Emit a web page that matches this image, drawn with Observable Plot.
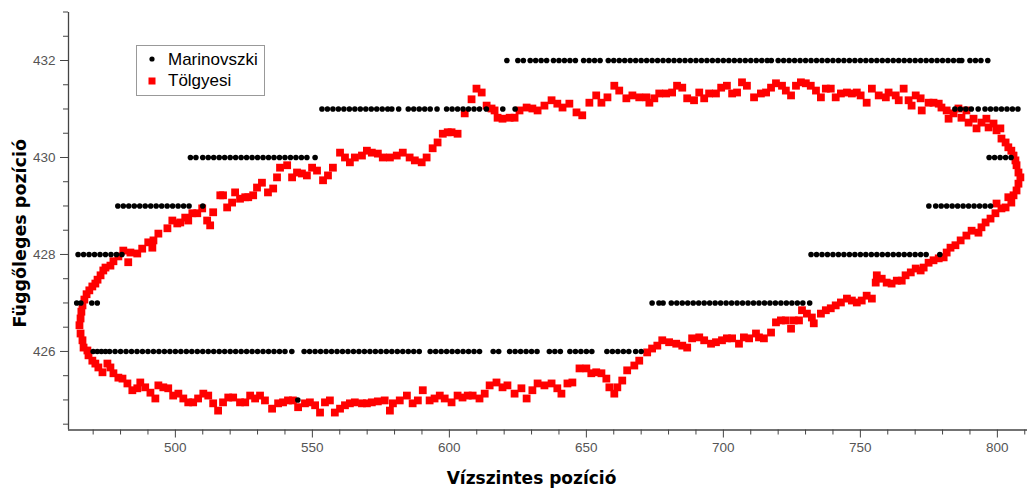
<!DOCTYPE html>
<html><head><meta charset="utf-8">
<script src="https://cdn.jsdelivr.net/npm/d3@7"></script>
<script src="https://cdn.jsdelivr.net/npm/@observablehq/plot@0.6"></script>
<style>
body{margin:0;background:#fff;}
#wrap{position:relative;width:1027px;height:493px;overflow:hidden;}
#legend{position:absolute;left:136px;top:45px;}
</style></head><body><div id="wrap"></div>
<script>
// Axis ticks
const xTicksMajor = [500, 550, 600, 650, 700, 750, 800];
const xTicksMinor = [470, 480, 490, 510, 520, 530, 540, 560, 570, 580, 590, 610, 620, 630, 640, 660, 670, 680, 690, 710, 720, 730, 740, 760, 770, 780, 790, 810];
const yTicksMajor = [426, 428, 430, 432];
const yTicksMinor = [424.5, 425, 425.5, 426.5, 427, 427.5, 428.5, 429, 429.5, 430.5, 431, 431.5, 432.5, 433];
const xDomain = [461, 811];
const yDomain = [424.38, 432.99];
const seriesNames = ["Marinovszki", "Tölgyesi"];
const xLabel = "Vízszintes pozíció";
const yLabel = "Függőleges pozíció";

// Marinovszki: integer rows (y) with x positions
const marRowY = [432, 431, 431, 430, 430, 429, 429, 428, 428, 427, 427, 426, 425];
const marRowX = [
  [621, 625, 627, 629.5, 631.5, 633.5, 635.5, 638, 640, 642, 644, 646, 649, 651, 653, 655, 658, 660, 662, 664, 666, 668, 670, 672, 674, 676, 678, 680, 682, 684, 686, 688, 690, 692, 694, 696, 698, 700, 702, 704, 706, 708, 710, 712, 714, 716, 717.5, 720, 722, 724, 726, 728, 730, 732, 734, 736, 738, 740, 742, 744, 746, 748, 750, 752, 754, 756, 758, 760, 762, 764, 766, 768, 770, 772, 774, 776, 778, 780, 782, 784, 786, 787, 790, 792, 794, 796.5],
  [553.5, 555.5, 557.5, 559.5, 561.5, 563.5, 565.5, 567.5, 569.5, 571.5, 573.5, 575.5, 577.5, 579, 581.5, 585, 587, 589, 591, 593, 595.5, 599, 601, 603, 605, 607, 609, 611, 613.5, 619.5, 624],
  [784.5, 786.5, 788.5, 790.5, 793, 795.5, 797.5, 799.5, 801.5, 803.5, 805.5, 807.5],
  [505.5, 507.5, 510, 512, 514, 516, 518, 520, 522, 524, 526, 528, 530, 532, 534, 536, 538, 540, 542, 544, 546, 548, 551],
  [797, 799, 801, 803, 805],
  [479, 481, 483, 485, 487, 489, 491, 493, 495, 497, 499, 501, 503, 505, 510],
  [775, 777.5, 779.5, 781.5, 783.5, 785.5, 787.5, 789.5, 791.5, 793.5, 795.5, 797.5],
  [464.5, 466.5, 468.5, 470.5, 472.5, 474.5, 476.5, 478.5, 480.5],
  [732, 734, 736, 738, 740, 742, 744, 746, 748, 750, 752, 754, 756, 758, 760, 762, 764, 766, 768, 770, 772, 774, 779],
  [464, 465.5, 469.5, 471.5],
  [674, 676.5, 678, 681, 683, 685, 687, 689, 691, 693, 695, 697, 699, 701, 703, 705, 707, 709, 711, 713, 715, 717, 719, 721, 723, 725, 727, 729, 731.5],
  [470, 471.5, 473, 474.5, 476, 478, 480, 482, 484, 486, 488, 490, 492, 494, 496, 498, 500, 502, 504, 506, 508, 510, 512, 514, 516, 518, 520, 522, 524, 526, 528, 530, 532, 534, 536, 538, 540, 542.5, 547, 549, 551, 553, 555, 557, 559, 561, 563, 565, 567, 569, 571, 573, 575, 577, 579, 581, 583, 585, 587, 589, 593, 595, 597, 599, 601, 603, 605, 607, 609, 611, 616, 618, 622, 624, 626, 628, 630, 632, 636.5, 638.5, 640.5, 644, 646, 648, 650, 652, 657.5, 659.5, 661.5, 663.5, 665.5, 668, 670],
  [544.7]
];

// Tölgyesi: loop of points
const tolX = [
466.1,465.4,465.0,465.4,465.7,466.1,466.8,467.6,468.6,469.7,
470.8,471.6,472.7,473.7,474.5,476.3,477.4,479.2,481.0,482.8,
483.6,486.1,487.9,490.1,491.6,492.0,493.8,497.1,498.9,500.7,
501.8,503.6,504.7,506.2,508.0,509.8,511.6,512.7,513.8,516.4,
517.4,518.9,520.7,521.8,523.6,525.5,526.6,528.4,529.8,531.6,
533.8,535.7,537.1,538.2,540.8,542.6,544.4,546.2,548.0,549.9,
551.7,553.9,555.7,557.5,560.1,561.9,563.7,565.5,568.1,569.9,
571.7,573.9,575.7,578.3,580.8,583.0,585.5,587.4,589.9,591.7,
593.9,595.7,597.6,599.4,600.8,603.0,605.6,608.1,609.9,611.8,
613.6,615.4,616.5,617.6,619.4,622.0,623.8,625.6,628.2,630.3,
632.2,634.7,637.3,639.4,641.3,643.8,646.4,648.5,651.1,653.6,
655.5,657.7,660.2,662.0,664.6,666.8,669.3,671.9,673.0,674.8,
676.6,679.1,681.3,683.1,685.0,686.8,689.3,691.2,693.0,694.8,
697.3,699.2,701.3,703.2,705.0,706.8,708.6,711.2,713.7,715.6,
717.4,719.2,721.4,722.8,724.7,726.5,728.3,730.1,731.9,733.8,
735.6,737.4,739.2,741.0,742.9,745.1,746.9,748.7,750.1,752.3,
754.2,756.7,759.3,760.3,762.9,764.0,765.8,767.6,768.7,770.2,
772.0,772.4,774.9,776.7,778.6,779.6,781.5,782.2,784.0,785.8,
786.9,788.7,789.5,791.3,792.4,794.2,796.0,796.8,798.6,799.7,
801.1,801.5,803.0,804.0,805.1,805.9,806.6,807.0,807.7,808.4,
807.7,807.0,805.9,805.1,804.0,803.0,801.5,799.7,799.3,797.5,
795.7,794.2,793.1,790.6,788.7,
786.6,784.7,782.9,781.5,780.4,778.6,776.7,774.9,773.1,772.0,
770.2,768.4,766.5,765.1,763.3,761.4,759.6,757.8,756.0,755.6,
754.2,752.3,750.5,748.7,746.9,745.1,742.9,741.0,739.2,737.4,
735.6,733.0,732.3,730.5,728.7,727.6,725.7,724.7,722.8,721.0,
719.2,717.4,714.8,713.0,711.9,709.4,707.5,705.7,703.2,701.3,
699.5,697.3,695.5,693.0,691.2,688.6,686.8,685.0,682.8,680.2,
677.7,675.9,674.0,672.2,669.3,667.5,664.9,663.1,661.3,660.2,
658.4,657.3,655.5,653.6,651.8,650.0,647.5,644.9,643.1,640.9,
639.4,637.3,634.7,632.2,630.3,628.2,626.3,623.8,621.2,619.4,
617.2,614.7,612.9,611.0,608.5,606.7,604.8,603.0,600.8,598.3,
596.5,594.6,592.8,590.3,588.5,586.6,584.5,581.9,579.4,578.3,
576.4,573.9,571.7,569.9,568.1,565.5,563.7,561.9,560.1,558.2,
556.4,554.6,552.8,551.0,549.1,547.3,544.8,542.9,541.1,539.3,
537.5,535.3,532.7,530.9,529.1,527.3,525.5,523.6,521.1,519.3,
517.4,515.6,513.8,512.0,510.2,508.3,506.5,504.7,502.9,501.1,
499.2,497.4,495.6,493.8,492.7,490.9,489.0,487.2,486.1,484.3,
482.5,480.7,479.2,477.4,476.3,475.2,473.4,471.9,470.8,469.7,
468.3,467.9,466.5
];
const tolY = [
426.23,426.37,426.54,426.68,426.82,426.95,427.07,427.18,427.26,427.34,
427.40,427.48,427.57,427.67,427.73,427.77,427.86,427.96,428.08,427.84,
428.04,428.02,428.12,428.25,428.14,428.29,428.43,428.54,428.70,428.64,
428.66,428.76,428.70,428.85,428.85,428.95,428.70,428.60,428.87,429.22,
429.22,428.97,429.07,429.28,429.15,429.18,429.18,429.22,429.38,429.48,
429.28,429.36,429.59,429.79,429.84,429.59,429.69,429.67,429.63,429.79,
429.73,429.53,429.63,429.79,430.10,430.00,429.90,430.00,430.04,430.14,
430.10,430.08,430.00,430.00,430.04,430.10,430.00,429.94,429.90,430.00,
430.19,430.31,430.49,430.52,430.52,430.49,430.91,431.20,431.42,431.34,
431.07,431.01,430.97,430.82,430.80,430.82,430.82,430.97,431.03,431.01,
430.97,431.07,431.18,431.11,431.03,431.11,430.93,430.87,431.13,431.28,
431.13,431.24,431.48,431.38,431.22,431.28,431.24,431.24,431.13,431.22,
431.32,431.32,431.34,431.48,431.44,431.22,431.18,431.34,431.22,431.32,
431.32,431.44,431.48,431.32,431.34,431.55,431.48,431.24,431.32,431.34,
431.44,431.53,431.48,431.38,431.28,431.48,431.55,431.53,431.48,431.38,
431.24,431.42,431.42,431.24,431.32,431.34,431.32,431.34,431.28,431.13,
431.42,431.28,431.24,431.34,431.28,431.18,431.42,431.18,431.07,431.28,
431.22,430.97,431.13,431.13,431.11,431.03,430.97,430.80,430.91,431.01,
430.82,430.97,430.72,430.80,430.60,430.72,430.80,430.62,430.70,430.56,
430.60,430.39,430.31,430.21,430.14,430.04,429.94,429.84,429.69,429.59,
429.46,429.32,429.22,429.07,429.18,428.97,428.95,429.05,428.85,428.74,
428.66,428.56,428.45,428.49,428.39,
428.29,428.19,428.14,428.04,427.94,427.92,427.88,427.83,427.73,427.67,
427.71,427.63,427.57,427.46,427.46,427.40,427.42,427.50,427.57,427.42,
427.09,427.15,427.05,427.01,427.05,427.09,427.01,426.95,426.89,426.85,
426.78,426.58,426.70,426.78,426.85,426.64,426.64,426.47,426.64,426.64,
426.60,426.39,426.27,426.29,426.37,426.27,426.29,426.16,426.27,426.27,
426.23,426.19,426.16,426.23,426.29,426.27,426.08,426.12,426.16,426.19,
426.23,426.12,426.06,425.98,425.81,425.71,425.61,425.40,425.26,425.13,
425.26,425.44,425.55,425.57,425.55,425.65,425.65,425.36,425.34,425.13,
425.24,425.34,425.30,425.34,425.20,425.03,425.24,425.13,425.30,425.26,
425.36,425.30,425.13,425.03,425.09,425.09,425.05,425.09,424.95,425.03,
425.09,425.03,424.99,425.20,424.99,424.93,425.09,424.99,424.93,424.78,
424.99,424.97,424.95,424.93,424.93,424.95,424.93,424.89,424.82,424.74,
424.99,424.95,424.74,424.89,424.95,424.93,424.85,424.99,424.99,424.95,
424.93,424.82,424.99,425.09,425.03,425.09,424.95,424.95,425.05,425.05,
424.95,424.78,424.93,425.09,425.13,425.03,424.95,424.95,425.03,425.13,
425.09,425.24,425.26,425.30,425.03,425.15,425.26,425.36,425.24,425.20,
425.34,425.44,425.46,425.55,425.67,425.75,425.57,425.67,425.75,425.81,
425.92,426.02,426.08
];

const marData = marRowY.flatMap((y, i) => marRowX[i].map(x => ({x, y})));
const tolData = tolX.map((x, i) => ({x, y: tolY[i]}));

const axisColor = "#444";
const textColor = "#555";

const chart = Plot.plot({
  width: 1027,
  height: 493,
  marginLeft: 68,
  marginRight: 0,
  marginTop: 12,
  marginBottom: 63.5,
  style: {fontFamily: "Liberation Sans, Arial, sans-serif", fontSize: "13.5px", background: "#fff", overflow: "visible"},
  x: {domain: xDomain},
  y: {domain: yDomain},
  marks: [
    Plot.axisX({ticks: xTicksMinor, tickSize: 5, tickFormat: () => "", stroke: axisColor, label: null}),
    Plot.axisX({ticks: xTicksMajor, tickSize: 8, tickPadding: 4, stroke: axisColor, fill: textColor, label: null, tickFormat: d3.format("d")}),
    Plot.axisY({ticks: yTicksMinor, tickSize: 5, tickFormat: () => "", stroke: axisColor, label: null}),
    Plot.axisY({ticks: yTicksMajor, tickSize: 8, tickPadding: 5, stroke: axisColor, fill: textColor, label: null, tickFormat: d3.format("d")}),
    Plot.ruleX([xDomain[0]], {stroke: axisColor, strokeWidth: 1.3}),
    Plot.ruleY([yDomain[0]], {stroke: axisColor, strokeWidth: 1.3}),
    Plot.dot(tolData, {x: "x", y: "y", symbol: "square", r: 4.4, fill: "#ff0000", stroke: "none"}),
    Plot.dot(marData, {x: "x", y: "y", r: 2.8, fill: "#000", stroke: "none"}),
    Plot.text([xLabel], {text: d => d, frameAnchor: "bottom", dx: -16.5, dy: 48.5, lineAnchor: "middle", fontFamily: "DejaVu Sans", fontWeight: "bold", fontSize: 17, fill: "#000"}),
    Plot.text([yLabel], {text: d => d, frameAnchor: "left", rotate: -90, dx: -48, dy: 12, lineAnchor: "middle", textAnchor: "middle", fontFamily: "DejaVu Sans", fontWeight: "bold", fontSize: 17.5, fill: "#000"})
  ]
});
const wrap = document.getElementById("wrap");
wrap.appendChild(chart);

// Legend overlay
const ns = "http://www.w3.org/2000/svg";
const leg = document.createElementNS(ns, "svg");
leg.setAttribute("id", "legend");
leg.setAttribute("width", 129);
leg.setAttribute("height", 51);
leg.innerHTML = `
  <rect x="0.5" y="0.5" width="128" height="50" fill="#fff" stroke="#999"/>
  <circle cx="16" cy="14" r="2.6" fill="#000"/>
  <rect x="12.5" y="32.5" width="7" height="7" fill="#ff0000"/>
  <text x="32" y="20" font-family="Liberation Sans, Arial, sans-serif" font-size="17" fill="#000">${seriesNames[0]}</text>
  <text x="32" y="41" font-family="Liberation Sans, Arial, sans-serif" font-size="17" fill="#000">${seriesNames[1]}</text>`;
wrap.appendChild(leg);
</script>
</body></html>
